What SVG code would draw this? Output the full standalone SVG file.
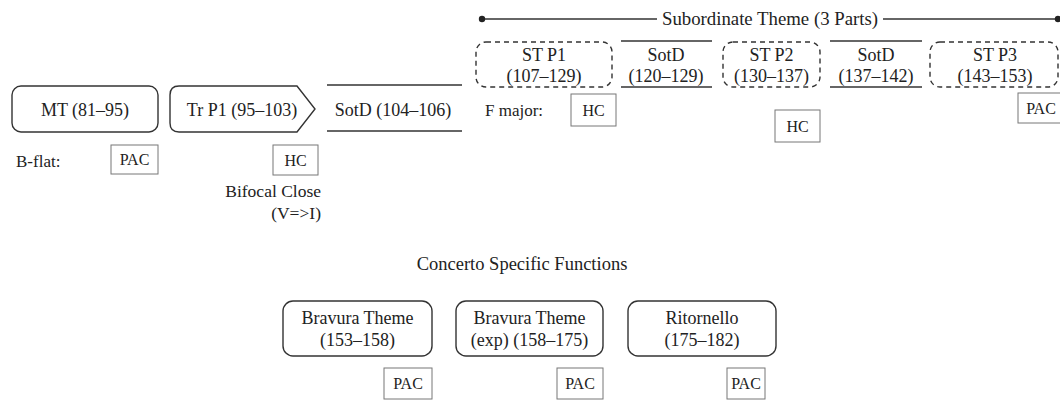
<svg xmlns="http://www.w3.org/2000/svg" width="1060" height="401" viewBox="0 0 1060 401">
<style>
text{font-family:"Liberation Serif","Times New Roman",serif;fill:#222;font-size:18px}
.c{text-anchor:middle}
.e{text-anchor:end}
.sm{font-size:16px}
.key{font-size:17px}
.node{fill:#fff;stroke:#333;stroke-width:1.4}
.dash{fill:none;stroke:#333;stroke-width:1.4;stroke-dasharray:5 4}
.cad{fill:#fff;stroke:#777;stroke-width:1}
.ln{stroke:#333;stroke-width:1.4;fill:none}
</style>
<rect width="1060" height="401" fill="#fff"/>
<g id="connectors">
<line class="ln" x1="482" y1="19" x2="657" y2="19"/>
<line class="ln" x1="883" y1="19" x2="1058" y2="19"/>
<circle cx="482" cy="19" r="3.2" fill="#222"/>
<circle cx="1058" cy="19" r="3.2" fill="#222"/>
</g>
<g id="st-label"><text class="c" x="770" y="25" style="font-size:18.8px">Subordinate Theme (3 Parts)</text></g>
<g id="mt">
<rect class="node" x="12" y="86" width="146" height="46" rx="9"/>
<text class="c" x="85" y="116">MT (81–95)</text>
</g>
<g id="trp1">
<path class="node" d="M179,86 H297 L315,109 L297,132 H179 Q170,132 170,123 V95 Q170,86 179,86 Z"/>
<text class="c" x="242" y="116">Tr P1 (95–103)</text>
</g>
<g id="sotd1">
<line class="ln" x1="327" y1="85" x2="462" y2="85"/>
<line class="ln" x1="327" y1="131" x2="462" y2="131"/>
<text class="c" x="393" y="116">SotD (104–106)</text>
</g>
<g id="bflat"><text x="16" y="167" class="key">B-flat:</text></g>
<g id="pac1">
<rect class="cad" x="111" y="145" width="47" height="29"/>
<text class="c sm" x="134.5" y="165">PAC</text>
</g>
<g id="hc1">
<rect class="cad" x="273" y="145" width="45" height="30"/>
<text class="c sm" x="295.5" y="166">HC</text>
</g>
<g id="bifocal">
<text class="e" x="321" y="197" style="font-size:17.5px">Bifocal Close</text>
<text class="e" x="321" y="219" style="font-size:17.5px">(V=&gt;I)</text>
</g>
<g id="stp1">
<rect class="dash" x="476" y="42" width="136" height="45" rx="10"/>
<text class="c" x="544" y="61">ST P1</text>
<text class="c" x="544" y="82">(107–129)</text>
</g>
<g id="sotd2">
<line class="ln" x1="621" y1="41" x2="712" y2="41"/>
<line class="ln" x1="621" y1="87" x2="712" y2="87"/>
<text class="c" x="666" y="61">SotD</text>
<text class="c" x="666" y="82">(120–129)</text>
</g>
<g id="stp2">
<rect class="dash" x="723" y="42" width="97" height="45" rx="10"/>
<text class="c" x="771.5" y="61">ST P2</text>
<text class="c" x="771.5" y="82">(130–137)</text>
</g>
<g id="sotd3">
<line class="ln" x1="830" y1="41" x2="922" y2="41"/>
<line class="ln" x1="830" y1="87" x2="922" y2="87"/>
<text class="c" x="876" y="61">SotD</text>
<text class="c" x="876" y="82">(137–142)</text>
</g>
<g id="stp3">
<rect class="dash" x="930" y="42" width="128" height="45" rx="10"/>
<text class="c" x="995" y="61">ST P3</text>
<text class="c" x="995" y="82">(143–153)</text>
</g>
<g id="fmajor"><text x="485" y="116" class="key">F major:</text></g>
<g id="hc2">
<rect class="cad" x="571" y="94" width="45" height="32"/>
<text class="c sm" x="593.5" y="116">HC</text>
</g>
<g id="hc3">
<rect class="cad" x="775" y="110" width="45" height="32"/>
<text class="c sm" x="797.5" y="132">HC</text>
</g>
<g id="pac2">
<rect class="cad" x="1018" y="93" width="47" height="30"/>
<text class="c sm" x="1041" y="114">PAC</text>
</g>
<g id="csf"><text class="c" x="522" y="270" style="font-size:18.5px">Concerto Specific Functions</text></g>
<g id="bt1">
<rect class="node" x="283" y="301" width="149" height="55" rx="10"/>
<text class="c" x="357.5" y="324">Bravura Theme</text>
<text class="c" x="357.5" y="346">(153–158)</text>
</g>
<g id="bt2">
<rect class="node" x="456" y="301" width="147" height="55" rx="10"/>
<text class="c" x="529.5" y="324">Bravura Theme</text>
<text class="c" x="529.5" y="346">(exp) (158–175)</text>
</g>
<g id="rit">
<rect class="node" x="628" y="301" width="148" height="55" rx="10"/>
<text class="c" x="702" y="324">Ritornello</text>
<text class="c" x="702" y="346">(175–182)</text>
</g>
<g id="pac3">
<rect class="cad" x="384" y="368" width="48" height="31"/>
<text class="c sm" x="408" y="389">PAC</text>
</g>
<g id="pac4">
<rect class="cad" x="557" y="368" width="46" height="31"/>
<text class="c sm" x="580" y="389">PAC</text>
</g>
<g id="pac5">
<rect class="cad" x="727" y="368" width="38" height="31"/>
<text class="c sm" x="746" y="389">PAC</text>
</g>
</svg>
